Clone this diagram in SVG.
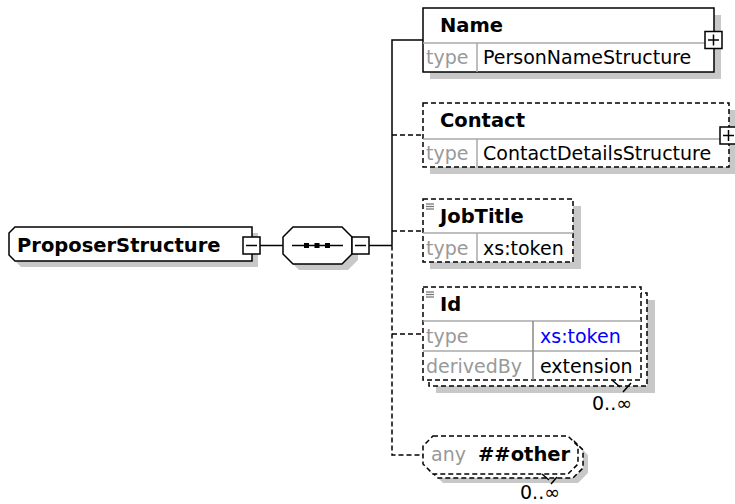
<svg xmlns="http://www.w3.org/2000/svg" width="735" height="504" viewBox="0 0 735 504">
  <style>
    .box { fill: #fff; stroke: #000; stroke-width: 1.5; }
    .dash { stroke-dasharray: 5 3; }
    .shadow { fill: #c8c8c8; stroke: none; }
    .inner { stroke: #a8a8a8; stroke-width: 1.5; fill: none; }
    .wire { stroke: #000; stroke-width: 1.5; fill: none; }
    .t { font-family: "DejaVu Sans", Verdana, sans-serif; font-size: 19px; fill: #000; }
    .b { font-weight: bold; font-size: 19.5px; }
    .g { fill: #999; }
    .blue { fill: #0000ff; }
    .icon { stroke: #777; stroke-width: 1.3; }
  </style>
  <defs>
    <g id="minus">
      <rect x="0" y="0" width="17" height="17" class="box"/>
      <line x1="3" y1="8.5" x2="14" y2="8.5" class="wire"/>
    </g>
    <g id="plus">
      <rect x="0" y="0" width="17" height="17" class="box"/>
      <line x1="3" y1="8.5" x2="14" y2="8.5" class="wire"/>
      <line x1="8.5" y1="3" x2="8.5" y2="14" class="wire"/>
    </g>
    <g id="docicon">
      <line x1="0" y1="0" x2="8" y2="0" class="icon"/>
      <line x1="0" y1="2.5" x2="8" y2="2.5" class="icon"/>
      <line x1="0" y1="5" x2="8" y2="5" class="icon"/>
    </g>
  </defs>

  <!-- connectors -->
  <g id="connectors">
    <line x1="260" y1="245.5" x2="283" y2="245.5" class="wire"/>
    <line x1="369" y1="245.5" x2="392" y2="245.5" class="wire"/>
    <path d="M423,40 H392 V245.5" class="wire"/>
    <path d="M392,245.5 V455 H423" class="wire dash"/>
    <line x1="392" y1="135" x2="423" y2="135" class="wire dash"/>
    <line x1="392" y1="231" x2="423" y2="231" class="wire dash"/>
    <line x1="392" y1="334" x2="423" y2="334" class="wire dash"/>
  </g>

  <!-- complex type root -->
  <g id="ProposerStructure">
    <path d="M21,233 H258 V267 H21 L15,261 V239 Z" class="shadow"/>
    <path d="M15,227 H252 V261 H15 L9,255 V233 Z" class="box"/>
    <text x="17" y="252" class="t b">ProposerStructure</text>
    <use href="#minus" x="243" y="237"/>
  </g>

  <!-- sequence compositor -->
  <g id="sequence">
    <path d="M299,233 H348 L358,243 V260 L348,270 H299 L289,260 V243 Z" class="shadow"/>
    <path d="M293,227 H342 L352,237 V254 L342,264 H293 L283,254 V237 Z" class="box"/>
    <line x1="292" y1="245.5" x2="343" y2="245.5" class="wire"/>
    <rect x="304" y="243" width="5" height="5"/>
    <rect x="314.5" y="243" width="5" height="5"/>
    <rect x="325" y="243" width="5" height="5"/>
    <use href="#minus" x="352" y="237"/>
  </g>

  <!-- Name -->
  <g id="Name">
    <rect x="430" y="15" width="291" height="64" class="shadow"/>
    <rect x="423" y="8" width="291" height="64" class="box"/>
    <line x1="423" y1="43" x2="714" y2="43" class="inner"/>
    <line x1="477" y1="43" x2="477" y2="72" class="inner"/>
    <text x="440" y="32" class="t b">Name</text>
    <text x="426" y="64" class="t g">type</text>
    <text x="483" y="64" class="t">PersonNameStructure</text>
    <use href="#plus" x="705" y="31.5"/>
  </g>

  <!-- Contact -->
  <g id="Contact">
    <rect x="430" y="110" width="306" height="64" class="shadow"/>
    <rect x="423" y="103" width="306" height="64" class="box dash"/>
    <line x1="423" y1="139" x2="729" y2="139" class="inner"/>
    <line x1="477" y1="139" x2="477" y2="167" class="inner"/>
    <text x="440" y="127" class="t b">Contact</text>
    <text x="426" y="160" class="t g">type</text>
    <text x="483" y="160" class="t">ContactDetailsStructure</text>
    <use href="#plus" x="720" y="127"/>
  </g>

  <!-- JobTitle -->
  <g id="JobTitle">
    <rect x="430" y="206" width="151" height="63" class="shadow"/>
    <rect x="423" y="199" width="150" height="63" class="box dash"/>
    <line x1="423" y1="233" x2="573" y2="233" class="inner"/>
    <line x1="477" y1="233" x2="477" y2="262" class="inner"/>
    <use href="#docicon" x="426" y="204"/>
    <text x="440" y="223" class="t b">JobTitle</text>
    <text x="426" y="255" class="t g">type</text>
    <text x="483" y="255" class="t">xs:token</text>
  </g>

  <!-- Id -->
  <g id="Id">
    <rect x="436" y="300" width="219" height="93" class="shadow"/>
    <rect x="429" y="293" width="218" height="93" class="box dash"/>
    <rect x="423" y="287" width="218" height="93" class="box dash"/>
    <line x1="423" y1="321" x2="641" y2="321" class="inner"/>
    <line x1="423" y1="351" x2="641" y2="351" class="inner"/>
    <line x1="533" y1="321" x2="533" y2="380" class="inner" style="stroke:#888"/>
    <use href="#docicon" x="426" y="292"/>
    <text x="440" y="311" class="t b">Id</text>
    <text x="426" y="343" class="t g">type</text>
    <text x="540" y="343" class="t blue">xs:token</text>
    <text x="426" y="373" class="t g">derivedBy</text>
    <text x="540" y="373" class="t">extension</text>
    <path d="M612,380 L620,387 M631,383 L623,392" class="wire"/>
    <text x="592" y="410" class="t">0..∞</text>
  </g>

  <!-- any wildcard -->
  <g id="any">
    <path d="M443,445 H578 L588,455 V473 L578,483 H443 L433,473 V455 Z" class="shadow"/>
    <path d="M438,440 H573 L583,450 V468 L573,478 H438 L428,468 V450 Z" class="box dash"/>
    <path d="M433,436 H568 L578,446 V464 L568,474 H433 L423,464 V446 Z" class="box dash"/>
    <text x="431" y="461" class="t g">any</text>
    <text x="478" y="461" class="t b">##other</text>
    <path d="M542,474 L549,480 M557,477 L551,484" class="wire"/>
    <text x="520" y="499" class="t">0..∞</text>
  </g>
</svg>
